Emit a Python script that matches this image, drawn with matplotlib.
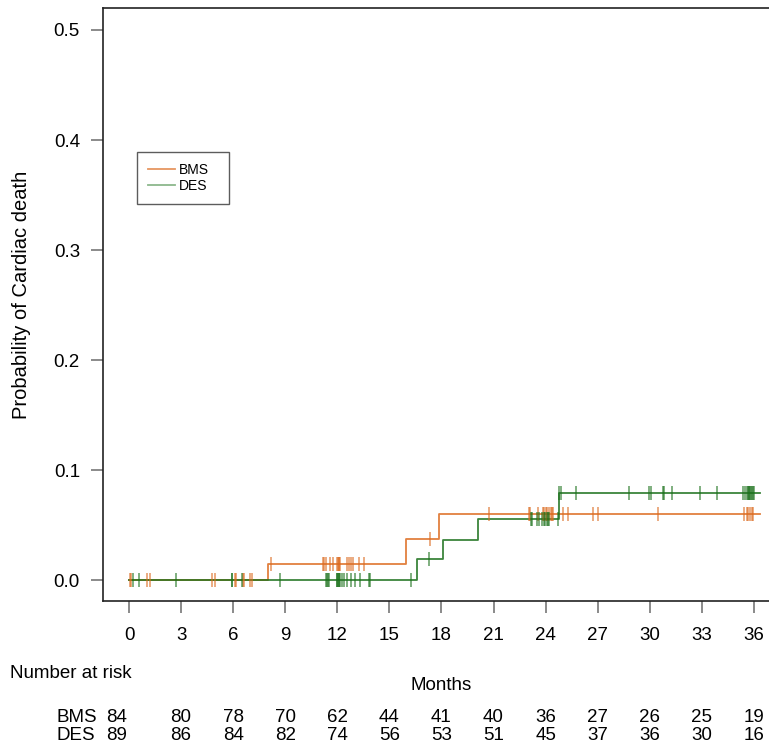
import numpy as np
import matplotlib.pyplot as plt
from matplotlib.transforms import blended_transform_factory, offset_copy

plt.rcParams['font.family'] = ['Liberation Sans', 'DejaVu Sans']

# step curves (cumulative incidence)
bms_t = [0, 7.98, 15.95, 17.87, 36.35]
bms_p = [0, 0.0145, 0.0373, 0.060, 0.060]
des_t = [0, 16.6, 18.06, 20.1, 24.75, 36.35]
des_p = [0, 0.019, 0.0369, 0.0555, 0.0796, 0.0796]

# censoring times
bms_cens = [0.06, 0.12, 1.02, 1.21, 4.78, 4.95, 6.09, 6.16, 6.55, 6.64, 6.95, 7.10,
            8.18, 11.16, 11.24, 11.36, 11.59, 11.73, 12.0, 12.04, 12.08, 12.12, 12.15,
            12.58, 12.67, 12.79, 12.93, 13.22, 13.54, 17.32,
            20.74, 23.06, 23.1, 23.58, 23.83, 23.92, 24.02, 24.1, 24.19, 24.28, 24.37, 24.45,
            25.02, 25.31, 26.75, 27.03, 30.49, 35.45, 35.58, 35.68, 35.78, 35.88, 35.97]
des_cens = [0.25, 0.56, 2.71, 5.91, 5.95, 6.49, 8.72, 11.33, 11.38, 11.46, 11.54,
            11.96, 12.0, 12.04, 12.08, 12.12, 12.15, 12.25, 12.38, 12.54, 12.77, 13.02,
            13.29, 13.81, 13.88, 16.22, 17.28,
            23.16, 23.22, 23.49, 23.64, 23.78, 23.88, 23.94, 24.1, 24.16, 24.22, 24.69, 24.75,
            24.87, 25.75, 28.82, 29.97, 30.05, 30.76, 30.84, 31.26, 32.89, 33.89,
            35.39, 35.49, 35.58, 35.64, 35.7, 35.74, 35.78, 35.82, 35.88, 35.94, 36.0]

risk_times = [0, 3, 6, 9, 12, 15, 18, 21, 24, 27, 30, 33, 36]
bms_risk = [84, 80, 78, 70, 62, 44, 41, 40, 36, 27, 26, 25, 19]
des_risk = [89, 86, 84, 82, 74, 56, 53, 51, 45, 37, 36, 30, 16]

orange = '#DC6A1E'
green = '#1A701A'
fs = 13.5


def step_value(t, times, probs):
    idx = np.searchsorted(times, t, side='right') - 1
    return np.array(probs)[idx]


fig = plt.figure(figsize=(7.69, 7.46), dpi=100)
ax = fig.add_axes([0.1339, 0.1944, 0.8804, 0.7949])

ax.step(bms_t, bms_p, where='post', color=orange, lw=1.3, alpha=0.85)
ax.step(des_t, des_p, where='post', color=green, lw=1.3, alpha=0.85)
ax.plot(bms_cens, step_value(bms_cens, bms_t, bms_p), ls='none', marker='|',
        ms=10, mew=1.2, color=orange, alpha=0.65)
ax.plot(des_cens, step_value(des_cens, des_t, des_p), ls='none', marker='|',
        ms=10, mew=1.2, color=green, alpha=0.65)

ax.set_xlim(-1.5, 37.5)
ax.set_ylim(-0.0188, 0.520)
ax.set_xticks(risk_times)
ax.set_yticks([0.0, 0.1, 0.2, 0.3, 0.4, 0.5])
ax.set_yticklabels(['0.0', '0.1', '0.2', '0.3', '0.4', '0.5'])
ax.tick_params(axis='both', direction='out', length=8.6, width=1.2, color='#777777',
               labelsize=fs)
ax.tick_params(axis='x', pad=10)
ax.tick_params(axis='y', pad=8)
for s in ['left', 'bottom', 'top']:
    ax.spines[s].set_linewidth(1.2)
    ax.spines[s].set_color('#222222')
ax.spines['right'].set_visible(False)

# legend
h1, = ax.plot([], [], color=orange, lw=1.3, alpha=0.7)
h2, = ax.plot([], [], color=green, lw=1.3, alpha=0.5)
leg = fig.legend([h1, h2], ['BMS', 'DES'], loc='upper left', mode='expand',
                 bbox_to_anchor=(137 / 769, 1 - 152 / 746, 92 / 769, 0), borderaxespad=0,
                 fontsize=10, handlelength=1.9, handletextpad=0.3, labelspacing=0.1,
                 borderpad=0.8, fancybox=False, frameon=True)
leg.get_frame().set_edgecolor('#333333')
leg.get_frame().set_linewidth(1.0)

fig.text(22 / 769, 1 - 295 / 746, 'Probability of Cardiac death', rotation=90,
         ha='center', va='center', fontsize=14.5)
fig.text(441 / 769, 1 - 685 / 746, 'Months', ha='center', va='center', fontsize=fs)
fig.text(10 / 769, 1 - 673 / 746, 'Number at risk', ha='left', va='center', fontsize=fs)

# risk table
tr = blended_transform_factory(ax.transData, fig.transFigure)
for label, counts, yp in [('BMS', bms_risk, 718), ('DES', des_risk, 736)]:
    y = 1 - yp / 746
    fig.text(57 / 769, y, label, ha='left', va='center', fontsize=fs)
    for i, (t, n) in enumerate(zip(risk_times, counts)):
        trans = offset_copy(tr, fig=fig, x=-12 if i == 0 else 0, units='dots')
        ax.text(t, y, str(n), transform=trans, ha='center', va='center',
                fontsize=fs, clip_on=False)

fig.savefig('out.png', dpi=100)
